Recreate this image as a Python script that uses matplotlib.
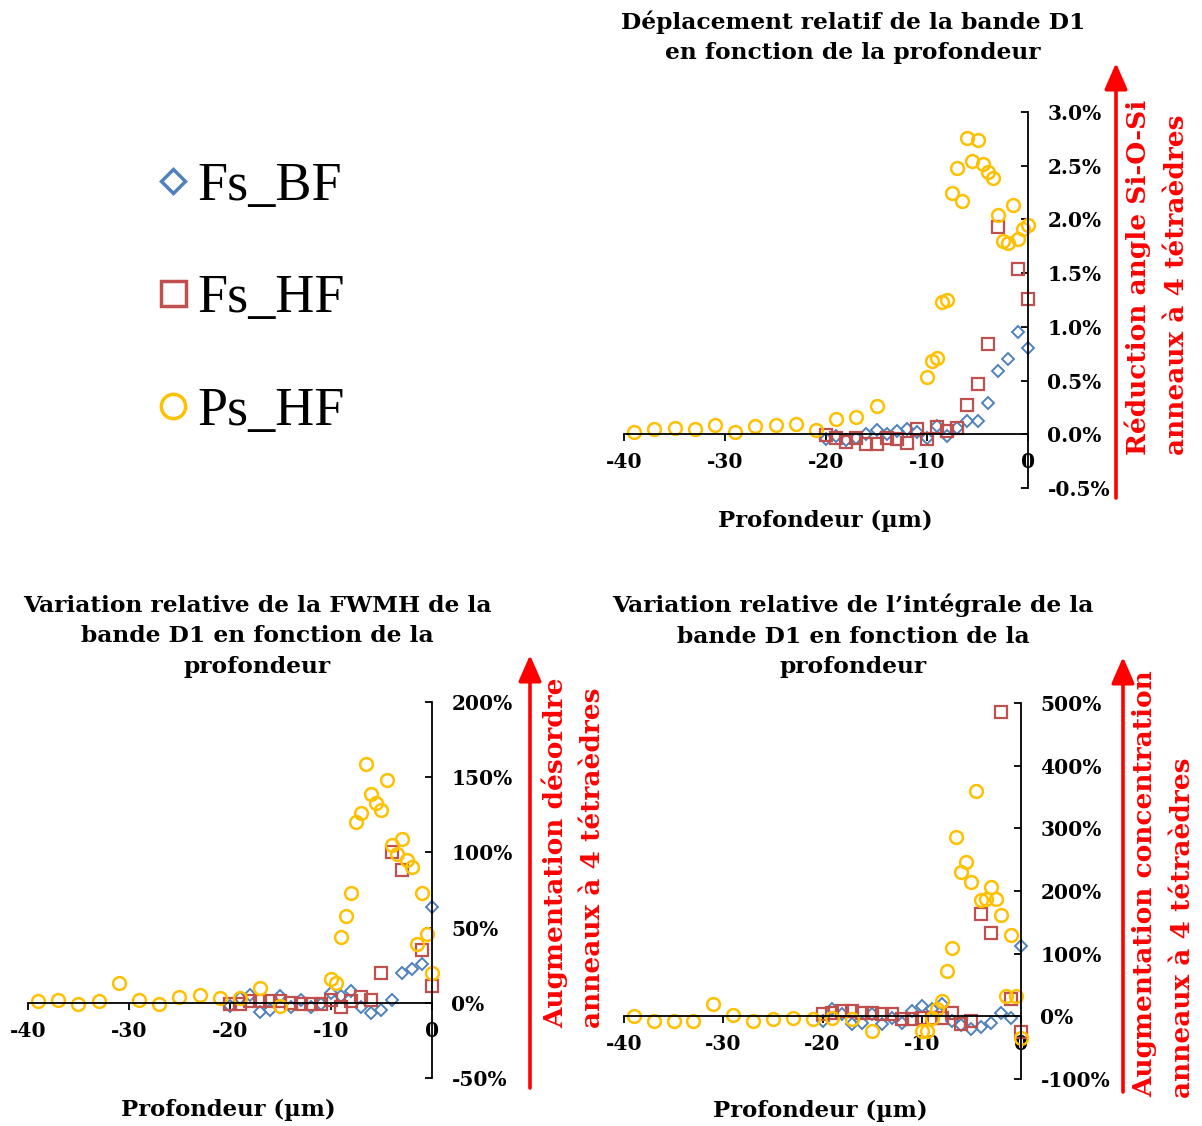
import numpy as np
import matplotlib
matplotlib.use('Agg')
import matplotlib.pyplot as plt
from matplotlib.lines import Line2D
from matplotlib.ticker import FuncFormatter

plt.rcParams['axes.unicode_minus'] = False

#depth in microns (0 = surface)
depth_fs = [0, -1, -2, -3, -4, -5, -6, -7, -8, -9, -10, -11, -12, -13, -14, -15, -16, -17, -18, -19, -20]
depth_ps = [-39, -37, -35, -33, -31, -29, -27, -25, -23, -21, -19, -17, -15,
            -10, -9.5, -9, -8.5, -8, -7.5, -7, -6.5, -6, -5.5, -5, -4.5, -4, -3.5, -3, -2.5, -2, -1.5, -1, -0.5, 0]

#relative shift of D1 band (%)
shift_fs_bf = [0.80, 0.95, 0.70, 0.59, 0.29, 0.12, 0.12, 0.06, -0.02, 0.08, -0.03, 0.02, 0.05, 0.03, 0.00, 0.04, 0.00, -0.03, -0.05, -0.02, -0.04]
shift_fs_hf = [1.26, 1.54, np.nan, 1.93, 0.84, 0.47, 0.27, 0.06, 0.03, 0.07, -0.04, 0.05, -0.08, -0.04, -0.03, -0.09, -0.09, -0.03, -0.07, -0.03, -0.01]
shift_ps_hf = [0.02, 0.05, 0.06, 0.05, 0.09, 0.02, 0.08, 0.09, 0.10, 0.04, 0.14, 0.16, 0.26,
               0.53, 0.68, 0.71, 1.23, 1.25, 2.25, 2.48, 2.17, 2.76, 2.54, 2.74, 2.52, 2.44, 2.39, 2.04, 1.80, 1.78, 2.13, 1.82, 1.91, 1.95]

#relative FWHM variation (%)
fwhm_fs_bf = [63.6, 26, 22.5, 19.5, 2, -4.5, -6.6, -3, 8, 4.5, 6.6, -1, -3, 2, -3, 4.5, -4.5, -6, 5.5, 3, -2]
fwhm_fs_hf = [11.5, 35, np.nan, 88, 100.5, 20, 2, 4, 1, -3, 2, -1, -1, -1, 0, 1, 1, 1, 1, -1, -1]
fwhm_ps_hf = [1, 2, -1, 1, 13, 2, -1, 4, 5.5, 3, 3, 10, -2,
              16, 13, 43.5, 58, 73, 120, 126, 159, 139, 133, 128, 148, 105, 99, 109, 95, 90, 39, 73, 46, 20]

#relative integral variation (%)
int_fs_bf = [112, -2, 6, -10, -17, -21, -14, -7, 20, 11, 17, 9, -11, -3, -12, 3, -11, -12, 4, 11, -8]
int_fs_hf = [-25, 27, 486, 133, 163, -8, -13, 5, -3, -2, -3, -5, -5, 3, 4, 5, 6, 9, 8, 5, 3]
int_ps_hf = [0, -7, -8, -7, 19, 2, -7, -4, -3, -4, -3, -5, -23,
             -24, -24, -3, 12, 24, 73, 109, 286, 230, 246, 215, 360, 186, 188, 207, 188, 162, 32, 129, 33, -35]

series_names = ['Fs_BF', 'Fs_HF', 'Ps_HF']
colors = ['#4F81BD', '#C0504D', '#FFC000']

W, H = 1202, 1126
fig = plt.figure(figsize=(W / 100, H / 100), dpi=100)
fig.patch.set_facecolor('white')

bold = dict(family='DejaVu Serif', weight='bold')


def box(left, top, right, bottom):
    # pixel box -> figure fraction rect
    return [left / W, 1 - bottom / H, (right - left) / W, (bottom - top) / H]


def make_panel(rect, bf, hf, ps, ylim, ystep, decimals):
    ax = fig.add_axes(rect)
    ax.plot(depth_fs, bf, ls='none', marker='D', ms=6.5, mfc='none', mec=colors[0], mew=1.4, clip_on=False)
    ax.plot(depth_fs, hf, ls='none', marker='s', ms=8.8, mfc='none', mec=colors[1], mew=1.6, clip_on=False)
    ax.plot(depth_ps, ps, ls='none', marker='o', ms=9.2, mfc='none', mec=colors[2], mew=1.8, clip_on=False)
    ax.set_xlim(-40, 0)
    ax.set_ylim(*ylim)
    ax.set_xticks([-40, -30, -20, -10, 0])
    ax.set_yticks(np.arange(ylim[0], ylim[1] + ystep / 2, ystep))
    ax.yaxis.set_major_formatter(FuncFormatter(lambda v, p: f'{v:.{decimals}f}%'))
    ax.spines['left'].set_visible(False)
    ax.spines['top'].set_visible(False)
    ax.spines['right'].set_position(('data', 0))
    ax.spines['bottom'].set_position(('data', 0))
    ax.spines['right'].set_linewidth(1.3)
    ax.spines['bottom'].set_linewidth(1.3)
    ax.yaxis.tick_right()
    ax.tick_params(axis='y', direction='in', length=5, width=1.3, pad=14)
    ax.tick_params(axis='x', direction='out', length=5, width=1.3, pad=8)
    for lab in ax.get_xticklabels() + ax.get_yticklabels():
        lab.set_fontfamily('DejaVu Serif')
        lab.set_fontweight('bold')
        lab.set_fontsize(14.5)
    ax.patch.set_alpha(0)
    return ax


ax1 = make_panel(box(624, 112, 1028, 488), shift_fs_bf, shift_fs_hf, shift_ps_hf, (-0.5, 3.0), 0.5, 1)
ax2 = make_panel(box(28, 702, 432, 1078), fwhm_fs_bf, fwhm_fs_hf, fwhm_ps_hf, (-50, 200), 50, 0)
ax3 = make_panel(box(624, 703, 1021, 1079), int_fs_bf, int_fs_hf, int_ps_hf, (-100, 500), 100, 0)

#titles
fig.text(853 / W, 1 - 37.5 / H, 'Déplacement relatif de la bande D1\nen fonction de la profondeur',
         ha='center', va='center', fontsize=16.8, linespacing=1.5, **bold)
fig.text(257 / W, 1 - 636 / H, 'Variation relative de la FWMH de la\nbande D1 en fonction de la\nprofondeur',
         ha='center', va='center', fontsize=16.8, linespacing=1.5, **bold)
fig.text(853 / W, 1 - 636 / H, 'Variation relative de l\u2019intégrale de la\nbande D1 en fonction de la\nprofondeur',
         ha='center', va='center', fontsize=16.8, linespacing=1.5, **bold)

#x labels
for xc, yc in [(825, 521), (228, 1110), (820, 1111)]:
    fig.text(xc / W, 1 - yc / H, 'Profondeur (\u00b5m)', ha='center', va='center', fontsize=16.4, **bold)

#red arrows + annotations
arrows = [(1116, 63, 498), (530, 655, 1088), (1123, 657, 1092)]
for xa, ytop, ybot in arrows:
    fig.add_artist(matplotlib.patches.FancyArrowPatch(
        (xa, H - ybot), (xa, H - ytop), transform=None,
        arrowstyle='-|>,head_length=0.8,head_width=0.35', mutation_scale=20,
        color='red', lw=2.6, shrinkA=0, shrinkB=0))

red_texts = [(1138, 455, 'Réduction angle Si-O-Si'), (1176, 455, 'anneaux à 4 tétraèdres'),
             (555, 1028, 'Augmentation désordre'), (593, 1028, 'anneaux à 4 tétraèdres'),
             (1145, 1097, 'Augmentation concentration'), (1183, 1098, 'anneaux à 4 tétraèdres')]
for xt, yb, s in red_texts:
    fig.text(xt / W, 1 - yb / H, s, rotation=90, ha='center', va='bottom', color='red', fontsize=19, **bold)

#legend
handles = [Line2D([], [], ls='none', marker='D', ms=12.5, mfc='none', mec=colors[0], mew=2.5),
           Line2D([], [], ls='none', marker='s', ms=18, mfc='none', mec=colors[1], mew=2.5),
           Line2D([], [], ls='none', marker='o', ms=17.5, mfc='none', mec=colors[2], mew=2.5)]
fig.legend(handles, series_names, loc='upper left', bbox_to_anchor=(130 / W, 1 - 134 / H),
           frameon=False, borderpad=0, handlelength=0.6, handletextpad=0.15, labelspacing=1.15,
           prop=dict(family='Liberation Serif', size=39))

plt.savefig('out.png', dpi=100)
